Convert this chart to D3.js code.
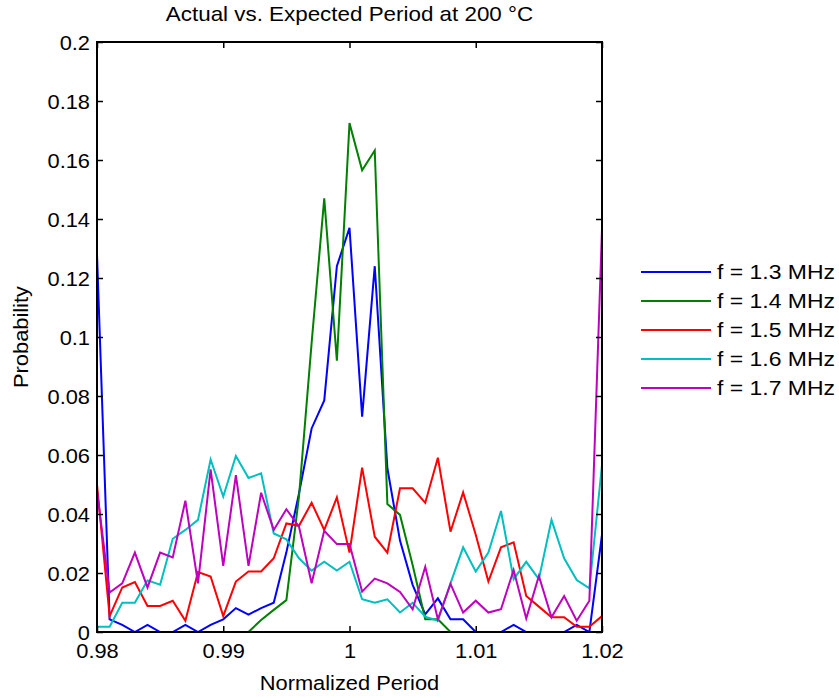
<!DOCTYPE html>
<html>
<head>
<meta charset="utf-8">
<script src="https://cdn.jsdelivr.net/npm/d3@7"></script>
<style>
  body { margin: 0; background: #fff; }
  svg { display: block; font-family: "Liberation Sans", Arial, sans-serif; }
</style>
</head>
<body>
<svg id="chart" width="839" height="698"></svg>
<script>
const periods = d3.range(41).map(i => +(0.98 + i * 0.001).toFixed(3));
const seriesNames = ["f = 1.3 MHz", "f = 1.4 MHz", "f = 1.5 MHz", "f = 1.6 MHz", "f = 1.7 MHz"];
const seriesColors = ["#0000ff", "#008000", "#ff0000", "#00bfbf", "#bf00bf"];
const f13 = [0.128, 0.0043, 0.0024, 0, 0.0024, 0, 0, 0.0024, 0, 0.0024, 0.0043, 0.0081, 0.0059, 0.0081, 0.0099, 0.027, 0.047, 0.069, 0.0785, 0.124, 0.137, 0.073, 0.124, 0.0555, 0.031, 0.016, 0.006, 0.0114, 0.0043, 0.0043, 0, 0, 0, 0.0024, 0, 0, 0, 0, 0.0024, 0, 0.033];
const f14 = [0, 0, 0, 0, 0, 0, 0, 0, 0, 0, 0, 0, 0, 0.0041, 0.0075, 0.0108, 0.046, 0.098, 0.147, 0.092, 0.1725, 0.1565, 0.1632, 0.0434, 0.0397, 0.0227, 0.0043, 0.0043, 0, 0, 0, 0, 0, 0, 0, 0, 0, 0, 0, 0, 0];
const f15 = [0.050, 0.0054, 0.0151, 0.0169, 0.0088, 0.0088, 0.0106, 0.0038, 0.0203, 0.0188, 0.0054, 0.0171, 0.0205, 0.0205, 0.025, 0.0368, 0.036, 0.0438, 0.0346, 0.0456, 0.0269, 0.0557, 0.0323, 0.0269, 0.0487, 0.0487, 0.0438, 0.0591, 0.034, 0.0473, 0.033, 0.0171, 0.0287, 0.0304, 0.0122, 0.0086, 0.005, 0.005, 0.0018, 0.0018, 0.0054];
const f16 = [0.0018, 0.0018, 0.0099, 0.0099, 0.0175, 0.016, 0.0316, 0.0346, 0.038, 0.0585, 0.0459, 0.0597, 0.0522, 0.0538, 0.0334, 0.0314, 0.025, 0.0208, 0.0238, 0.0208, 0.0238, 0.0111, 0.0099, 0.0111, 0.0066, 0.0099, 0.0052, 0.0038, 0.0165, 0.0287, 0.0205, 0.0269, 0.041, 0.0179, 0.0238, 0.0179, 0.038, 0.025, 0.0176, 0.0148, 0.0566];
const f17 = [0.048, 0.0134, 0.0165, 0.0269, 0.0151, 0.0269, 0.0253, 0.0445, 0.0165, 0.0551, 0.0224, 0.0532, 0.0224, 0.0472, 0.0346, 0.0416, 0.0357, 0.0165, 0.0343, 0.0298, 0.0298, 0.0137, 0.0181, 0.0165, 0.0136, 0.0077, 0.0221, 0.0043, 0.0163, 0.0066, 0.0106, 0.0066, 0.0077, 0.021, 0.0046, 0.019, 0.005, 0.0122, 0.0038, 0.0106, 0.1365];
const xTicks = [0.98, 0.99, 1, 1.01, 1.02];
const yTicks = [0, 0.02, 0.04, 0.06, 0.08, 0.1, 0.12, 0.14, 0.16, 0.18, 0.2];
const titleText = "Actual vs. Expected Period at 200 °C";
const xLabel = "Normalized Period";
const yLabel = "Probability";

const allSeries = [f13, f14, f15, f16, f17];

const svg = d3.select("#chart");
const L = 97, R = 602, T = 42, B = 632;
const x = d3.scaleLinear().domain([0.98, 1.02]).range([L, R]);
const y = d3.scaleLinear().domain([0, 0.2]).range([B, T]);
const fmt = d => d3.format("~g")(d);
const FS = 19.5;   // font size
const K = 1.12;    // horizontal stretch of text as in the reference

function stretch(sel) {
  sel.each(function () {
    const t = d3.select(this);
    const tx = +t.attr("x") || 0;
    t.attr("transform", `translate(${tx},0) scale(${K},1) translate(${-tx},0)`);
  });
}

// clip
svg.append("defs").append("clipPath").attr("id", "clip")
  .append("rect").attr("x", L).attr("y", T).attr("width", R - L).attr("height", B - T);

// lines
const line = d3.line().x((d, i) => x(periods[i])).y(d => y(d));
const plot = svg.append("g").attr("clip-path", "url(#clip)");
allSeries.forEach((s, k) => {
  plot.append("path").datum(s)
    .attr("d", line)
    .attr("fill", "none")
    .attr("stroke", seriesColors[k])
    .attr("stroke-width", 2)
    .attr("stroke-linejoin", "miter");
});

// axes (ticks inward)
const tl = 6;
const xb = svg.append("g").attr("transform", `translate(0,${B})`)
  .call(d3.axisBottom(x).tickValues(xTicks).tickFormat(fmt).tickSizeInner(-tl).tickSizeOuter(0));
const xt = svg.append("g").attr("transform", `translate(0,${T})`)
  .call(d3.axisTop(x).tickValues(xTicks).tickFormat("").tickSizeInner(-tl).tickSizeOuter(0));
const yl = svg.append("g").attr("transform", `translate(${L},0)`)
  .call(d3.axisLeft(y).tickValues(yTicks).tickFormat(fmt).tickSizeInner(-tl).tickSizeOuter(0).tickPadding(7));
const yr = svg.append("g").attr("transform", `translate(${R},0)`)
  .call(d3.axisRight(y).tickValues(yTicks).tickFormat("").tickSizeInner(-tl).tickSizeOuter(0));
[xb, xt, yl, yr].forEach(g => {
  g.select(".domain").remove();
  g.selectAll("line").attr("stroke", "#000").attr("stroke-width", 1.5);
  g.selectAll("text").attr("fill", "#000").attr("font-size", FS)
    .attr("font-family", "'Liberation Sans', Arial, sans-serif");
});
xb.selectAll("text").attr("y", 26).attr("dy", 0).call(stretch);
yl.selectAll("text").attr("dy", "0.36em").call(stretch);

// box
svg.append("rect").attr("x", L).attr("y", T).attr("width", R - L).attr("height", B - T)
  .attr("fill", "none").attr("stroke", "#000").attr("stroke-width", 2);

// titles
svg.append("text").attr("x", (L + R) / 2).attr("y", 21).attr("text-anchor", "middle")
  .attr("font-size", 20).attr("fill", "#000").text(titleText).call(stretch);
svg.append("text").attr("x", (L + R) / 2).attr("y", 690).attr("text-anchor", "middle")
  .attr("font-size", FS).attr("fill", "#000").text(xLabel).call(stretch);
svg.append("text").attr("transform", `translate(28,${(T + B) / 2}) rotate(-90) scale(${K},1)`)
  .attr("text-anchor", "middle").attr("font-size", FS).attr("fill", "#000").text(yLabel);

// legend
const lg = svg.append("g");
seriesNames.forEach((n, k) => {
  const yy = 272 + k * 29;
  lg.append("line").attr("x1", 641).attr("x2", 711).attr("y1", yy).attr("y2", yy)
    .attr("stroke", seriesColors[k]).attr("stroke-width", 2);
  lg.append("text").attr("x", 717).attr("y", yy).attr("dy", "0.36em")
    .attr("font-size", 20.5).attr("fill", "#000").text(n).call(stretch);
});
</script>
</body>
</html>
